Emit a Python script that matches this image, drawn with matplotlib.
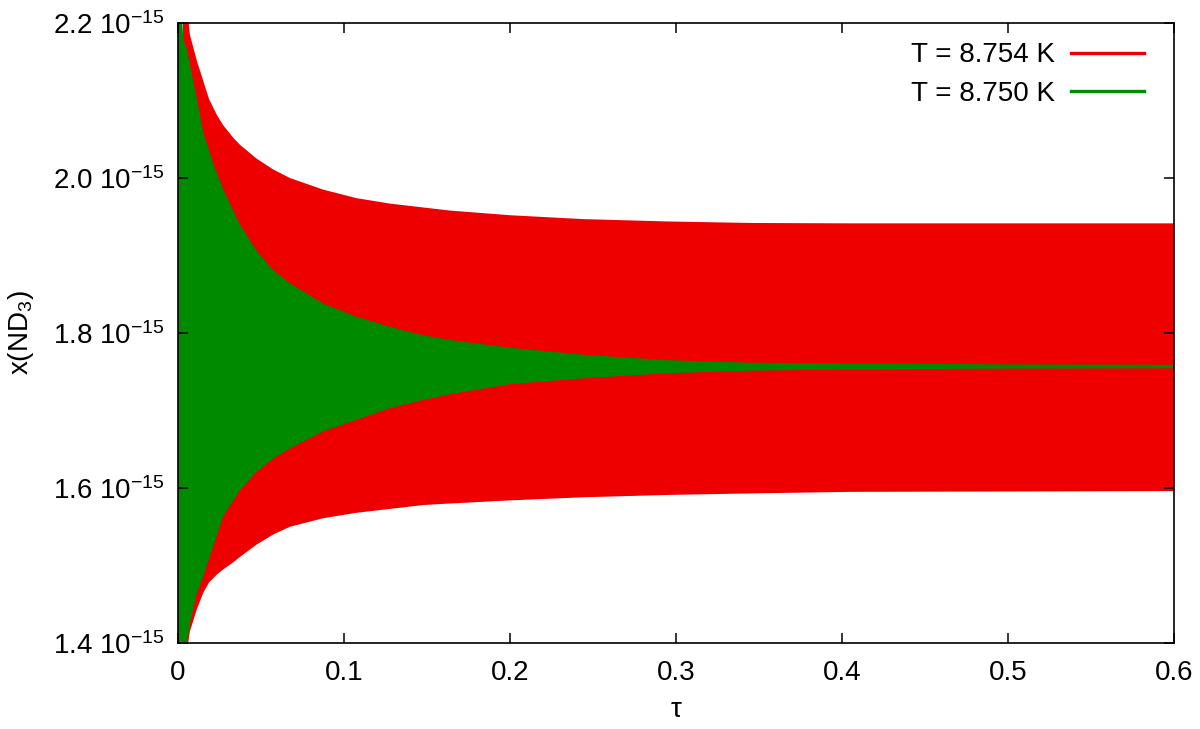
import numpy as np
import matplotlib
matplotlib.use("Agg")
import matplotlib.pyplot as plt
from matplotlib.lines import Line2D
from matplotlib.ticker import FixedLocator, FuncFormatter

plt.rcParams['font.family'] = ['Liberation Sans', 'DejaVu Sans']
plt.rcParams['mathtext.fontset'] = 'custom'
plt.rcParams['mathtext.rm'] = 'Liberation Sans'
plt.rcParams['mathtext.default'] = 'regular'

# envelopes of the oscillating abundance (units of 1e-15)
tau_red = [0.003, 0.0055, 0.0072, 0.0113, 0.0153, 0.0187, 0.0233, 0.0273, 0.0333, 0.0373,
           0.0474, 0.0574, 0.0675, 0.0875, 0.1076, 0.1277, 0.1478, 0.1639, 0.20, 0.244,
           0.294, 0.345, 0.405, 0.50, 0.60]
red_upper = [2.45, 2.22, 2.185, 2.152, 2.125, 2.102, 2.082, 2.068, 2.052, 2.043,
             2.025, 2.011, 2.000, 1.985, 1.974, 1.967, 1.962, 1.958, 1.952, 1.947,
             1.944, 1.942, 1.9415, 1.9415, 1.9415]
red_lower = [1.25, 1.39, 1.415, 1.443, 1.465, 1.478, 1.488, 1.495, 1.504, 1.511,
             1.527, 1.540, 1.550, 1.561, 1.568, 1.573, 1.578, 1.580, 1.584, 1.588,
             1.591, 1.593, 1.595, 1.5955, 1.596]

tau_green = [0.0, 0.0015, 0.0032, 0.0052, 0.0072, 0.0113, 0.0153, 0.0173, 0.0213, 0.0273,
             0.0373, 0.0474, 0.0574, 0.0675, 0.0875, 0.1076, 0.1277, 0.1478, 0.1639, 0.20,
             0.244, 0.294, 0.345, 0.405, 0.50, 0.60]
green_upper = [2.40, 2.25, 2.178, 2.168, 2.146, 2.103, 2.058, 2.045, 2.018, 1.985,
               1.940, 1.906, 1.881, 1.864, 1.838, 1.821, 1.808, 1.797, 1.791, 1.781,
               1.772, 1.765, 1.7617, 1.761, 1.7595, 1.759]
green_lower = [1.25, 1.30, 1.35, 1.395, 1.426, 1.4645, 1.486, 1.500, 1.525, 1.564,
               1.597, 1.621, 1.638, 1.651, 1.673, 1.688, 1.703, 1.7135, 1.721, 1.734,
               1.7415, 1.748, 1.7514, 1.753, 1.754, 1.7545]

labels = ["T = 8.754 K", "T = 8.750 K"]
colors = ["#ee0000", "#008a00"]

xticks = [0, 0.1, 0.2, 0.3, 0.4, 0.5, 0.6]
yticks = [1.4, 1.6, 1.8, 2.0, 2.2]

fig = plt.figure(figsize=(12, 7.29), dpi=100)
ax = fig.add_axes([0.1483, 0.118, 0.83, 0.8504])

ax.fill_between(tau_red, red_lower, red_upper, color=colors[0], linewidth=0)
ax.fill_between(tau_green, green_lower, green_upper, color=colors[1], linewidth=0)

ax.set_xlim(0, 0.6)
ax.set_ylim(1.4, 2.2)
ax.xaxis.set_major_locator(FixedLocator(xticks))
ax.yaxis.set_major_locator(FixedLocator(yticks))
ax.xaxis.set_major_formatter(FuncFormatter(lambda v, p: "0" if v == 0 else f"{v:.1f}"))
ax.yaxis.set_major_formatter(FuncFormatter(lambda v, p: f"{v:.1f} 10$^{{-15}}$"))
ax.tick_params(direction='in', length=7, width=1.1, labelsize=20, top=True, right=True)
ax.tick_params(axis='x', pad=12)
ax.tick_params(axis='y', pad=10)
for s in ax.spines.values():
    s.set_linewidth(1.2)

ax.set_xlabel("τ", fontsize=20, labelpad=8)
ax.set_ylabel("x(ND$_3$)", fontsize=20, labelpad=12)

handles = [Line2D([], [], color=c, linewidth=2.4) for c in colors]
ax.legend(handles, labels, loc='upper right', frameon=False, markerfirst=False,
          fontsize=20, handlelength=2.6, handletextpad=0.6, labelspacing=0.45,
          borderaxespad=0.3, bbox_to_anchor=(0.989, 1.0))

fig.savefig("out.png", dpi=100)
